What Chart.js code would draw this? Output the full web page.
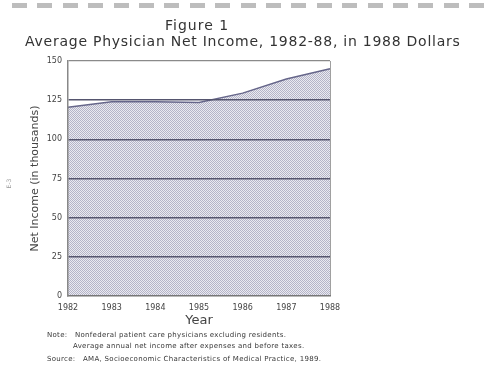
<!DOCTYPE html>
<html>
<head>
<meta charset="utf-8">
<script src="https://cdn.jsdelivr.net/npm/chart.js@4.4.1/dist/chart.umd.min.js"></script>
<style>
html,body{margin:0;padding:0;background:#fff;}
#wrap{position:relative;width:500px;height:380px;overflow:hidden;font-family:"DejaVu Sans",sans-serif;color:#333;}
#chart{position:absolute;left:0;top:0;}
.t{position:absolute;white-space:nowrap;}
.n{font-size:7px;letter-spacing:0.3px;color:#383838;}
#dashes{position:absolute;left:12px;top:3px;width:480px;height:5px;
background:repeating-linear-gradient(to right,#bdbdbd 0,#bdbdbd 15px,transparent 15px,transparent 25.4px);}
</style>
</head>
<body>
<div id="wrap">
<div id="dashes"></div>
<canvas id="chart" width="500" height="380"></canvas>
<div class="t" style="left:165px;top:17px;font-size:14px;letter-spacing:1px;">Figure 1</div>
<div class="t" style="left:25px;top:33px;font-size:14px;letter-spacing:0.75px;">Average Physician Net Income, 1982-88, in 1988 Dollars</div>
<div class="t" style="left:4px;top:180px;font-size:6px;color:#999;transform:rotate(-90deg);">E-3</div>
<div class="t n" style="left:47px;top:331px;">Note:</div>
<div class="t n" style="left:75px;top:331px;">Nonfederal patient care physicians excluding residents.</div>
<div class="t n" style="left:73px;top:342px;">Average annual net income after expenses and before taxes.</div>
<div class="t n" style="left:47px;top:355px;">Source:</div>
<div class="t n" style="left:83px;top:355px;">AMA, Socioeconomic Characteristics of Medical Practice, 1989.</div>
</div>
<script>
const years = ["1982","1983","1984","1985","1986","1987","1988"]
const netIncome = [120.5, 124, 124, 123.5, 129.5, 138.5, 145]
const yTicks = [0,25,50,75,100,125,150]

// checker texture for the shaded area
const pc = document.createElement("canvas")
pc.width = 2
pc.height = 2
const pctx = pc.getContext("2d")
pctx.fillStyle = "#eaeaf0"
pctx.fillRect(0,0,2,2)
pctx.fillStyle = "#b4b4c8"
pctx.fillRect(0,0,1,1)
pctx.fillRect(1,1,1,1)

const ctx = document.getElementById("chart").getContext("2d")
const pattern = ctx.createPattern(pc,"repeat")

new Chart(ctx,{
type:"line",
data:{
labels:years,
datasets:[{
data:netIncome,
borderColor:"#66668a",
borderWidth:1.5,
backgroundColor:pattern,
fill:"origin",
pointRadius:0,
tension:0
}]
},
options:{
responsive:false,
animation:false,
layout:{padding:{left:0,right:170,top:61,bottom:0}},
plugins:{legend:{display:false},tooltip:{enabled:false}},
scales:{
x:{
offset:false,
afterFit:s=>{s.height=84},
grid:{
z:1,
drawTicks:false,
lineWidth:1,
color:c=>c.index===years.length-1 ? "#a0a0a0" : "rgba(0,0,0,0)"
},
border:{display:true,color:"#777",width:1.5,z:1},
ticks:{color:"#444",font:{family:"DejaVu Sans",size:8},padding:7,maxRotation:0},
title:{display:true,text:"Year",color:"#444",font:{family:"DejaVu Sans",size:13},padding:{top:0,bottom:52}}
},
y:{
min:0,
max:150,
afterFit:s=>{s.width=68},
afterBuildTicks:s=>{s.ticks=yTicks.map(v=>({value:v}))},
grid:{
z:1,
drawTicks:false,
lineWidth:c=>c.tick.value===150 ? 1.2 : 1.6,
color:c=>c.tick.value===150 ? "#8a8a8a" : (c.tick.value===0 ? "rgba(0,0,0,0)" : "#55556e")
},
border:{display:true,color:"#888",width:1.5,z:1},
ticks:{color:"#444",font:{family:"DejaVu Sans",size:8},padding:6},
title:{display:true,text:"Net Income (in thousands)",color:"#444",font:{family:"DejaVu Sans",size:11},padding:{top:29,bottom:0}}
}
}
}
})
</script>
</body>
</html>
